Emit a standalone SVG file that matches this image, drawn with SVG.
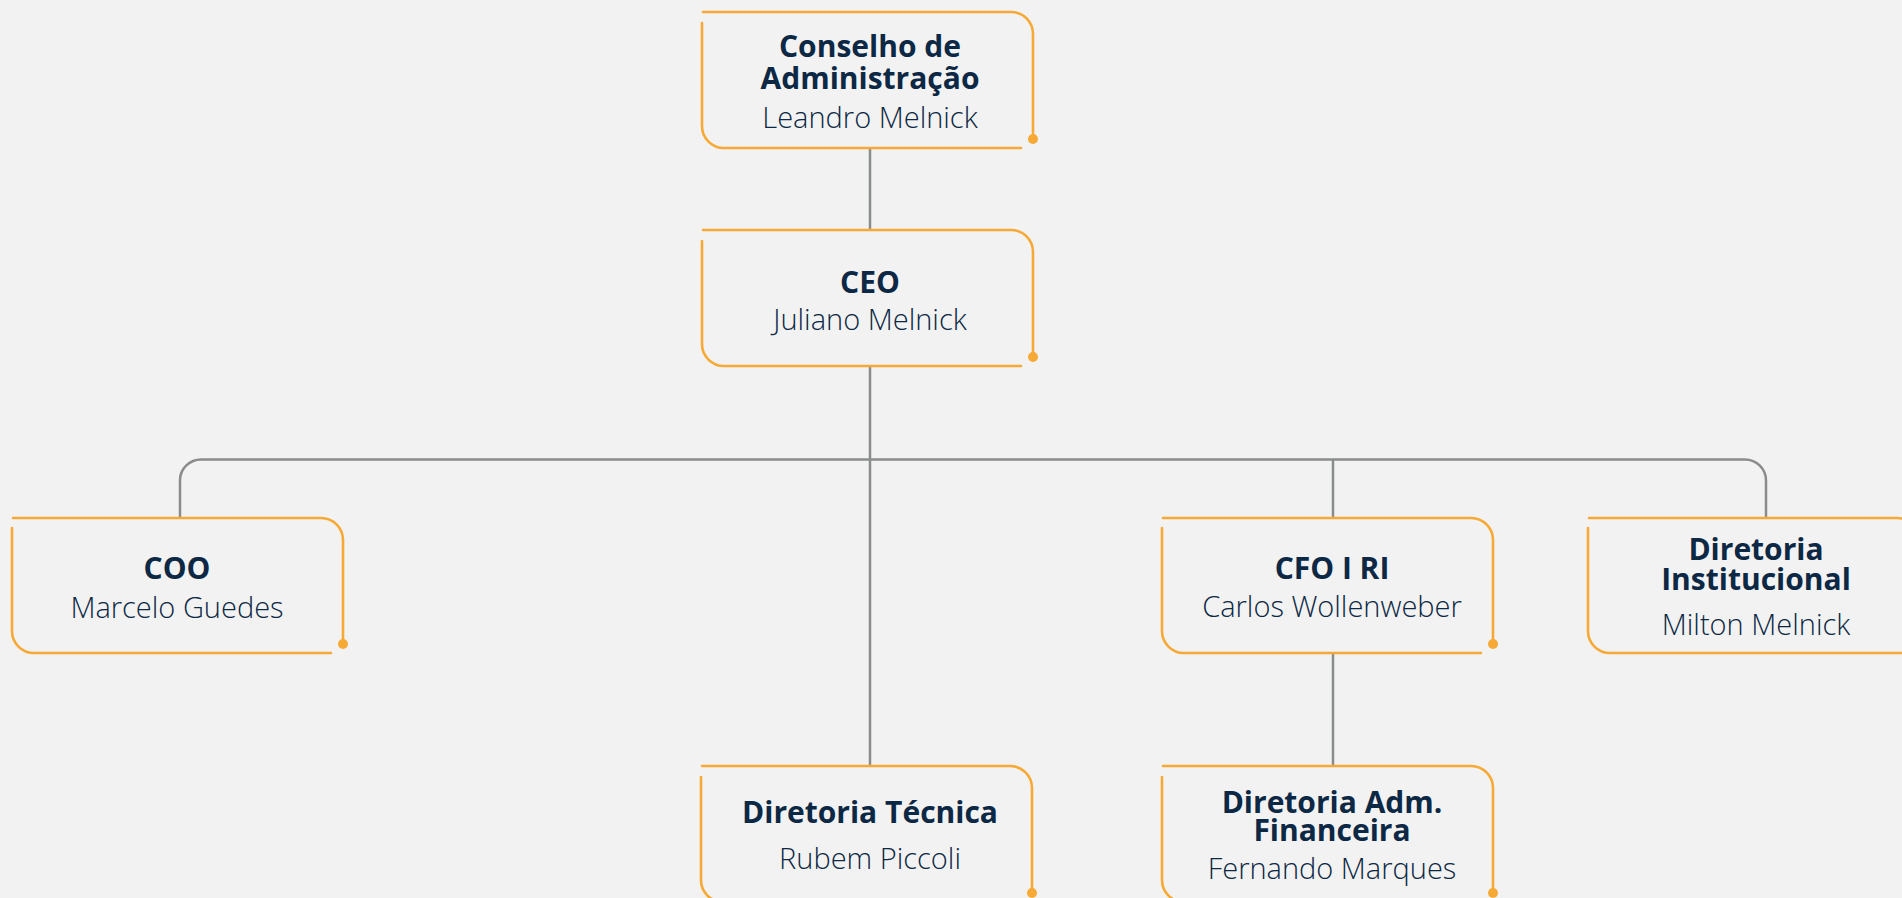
<svg xmlns="http://www.w3.org/2000/svg" width="1902" height="898" viewBox="0 0 1902 898">
<style>
.bg{fill:#f2f2f2}
.edge{fill:none;stroke:#8a8c8c;stroke-width:2.5}
.bx{fill:none;stroke:#f6a935;stroke-width:2.6;stroke-linecap:round}
.dot{fill:#f6a935}
.t{font-family:"Open Sans","Liberation Sans",sans-serif;font-weight:700;font-size:30px;fill:#0c2844;text-anchor:middle}
.n{font-family:"Open Sans","Liberation Sans",sans-serif;font-weight:300;font-size:29px;fill:#0c2844;text-anchor:middle}
</style>
<rect class="bg" x="0" y="0" width="1902" height="898"/>
<g id="connectors">
<path class="edge" d="M870 148 V230"/>
<path class="edge" d="M870 366 V766"/>
<path class="edge" d="M180 518 V480 A21 21 0 0 1 201 459.5 H1745 A21 21 0 0 1 1766 480.5 V518"/>
<path class="edge" d="M1333 459.5 V518"/>
<path class="edge" d="M1333 653 V766"/>
</g>
<g id="node-conselho">
<path class="bx" d="M703 12 H1011 A22 22 0 0 1 1033 34 V139"/>
<path class="bx" d="M702 23 V126 A22 22 0 0 0 724 148 H1021"/>
<circle class="dot" cx="1033" cy="139" r="5"/>
<text class="t" x="870" y="57">Conselho de</text>
<text class="t" x="870" y="89">Administração</text>
<text class="n" x="870" y="128">Leandro Melnick</text>
</g>
<g id="node-ceo">
<path class="bx" d="M703 230 H1011 A22 22 0 0 1 1033 252 V357"/>
<path class="bx" d="M702 241 V344 A22 22 0 0 0 724 366 H1021"/>
<circle class="dot" cx="1033" cy="357" r="5"/>
<text class="t" x="870" y="293">CEO</text>
<text class="n" x="870" y="330">Juliano Melnick</text>
</g>
<g id="node-coo">
<path class="bx" d="M13 518 H321 A22 22 0 0 1 343 540 V644"/>
<path class="bx" d="M12 528 V631 A22 22 0 0 0 34 653 H331"/>
<circle class="dot" cx="343" cy="644" r="5"/>
<text class="t" x="177" y="579">COO</text>
<text class="n" x="177" y="618">Marcelo Guedes</text>
</g>
<g id="node-cfo">
<path class="bx" d="M1163 518 H1471 A22 22 0 0 1 1493 540 V644"/>
<path class="bx" d="M1162 528 V631 A22 22 0 0 0 1184 653 H1481"/>
<circle class="dot" cx="1493" cy="644" r="5"/>
<text class="t" x="1332" y="579">CFO I RI</text>
<text class="n" x="1332" y="617">Carlos Wollenweber</text>
</g>
<g id="node-institucional">
<path class="bx" d="M1589 518 H1897 A22 22 0 0 1 1919 540 V644"/>
<path class="bx" d="M1588 528 V631 A22 22 0 0 0 1610 653 H1907"/>
<circle class="dot" cx="1919" cy="644" r="5"/>
<text class="t" x="1756" y="560">Diretoria</text>
<text class="t" x="1756" y="590">Institucional</text>
<text class="n" x="1756" y="635">Milton Melnick</text>
</g>
<g id="node-tecnica">
<path class="bx" d="M702 766 H1010 A22 22 0 0 1 1032 788 V893"/>
<path class="bx" d="M701 777 V880 A22 22 0 0 0 723 902 H1020"/>
<circle class="dot" cx="1032" cy="893" r="5"/>
<text class="t" x="870" y="823">Diretoria Técnica</text>
<text class="n" x="870" y="869">Rubem Piccoli</text>
</g>
<g id="node-financeira">
<path class="bx" d="M1163 766 H1471 A22 22 0 0 1 1493 788 V893"/>
<path class="bx" d="M1162 777 V880 A22 22 0 0 0 1184 902 H1481"/>
<circle class="dot" cx="1493" cy="893" r="5"/>
<text class="t" x="1332" y="813">Diretoria Adm.</text>
<text class="t" x="1332" y="841">Financeira</text>
<text class="n" x="1332" y="879">Fernando Marques</text>
</g>
</svg>
